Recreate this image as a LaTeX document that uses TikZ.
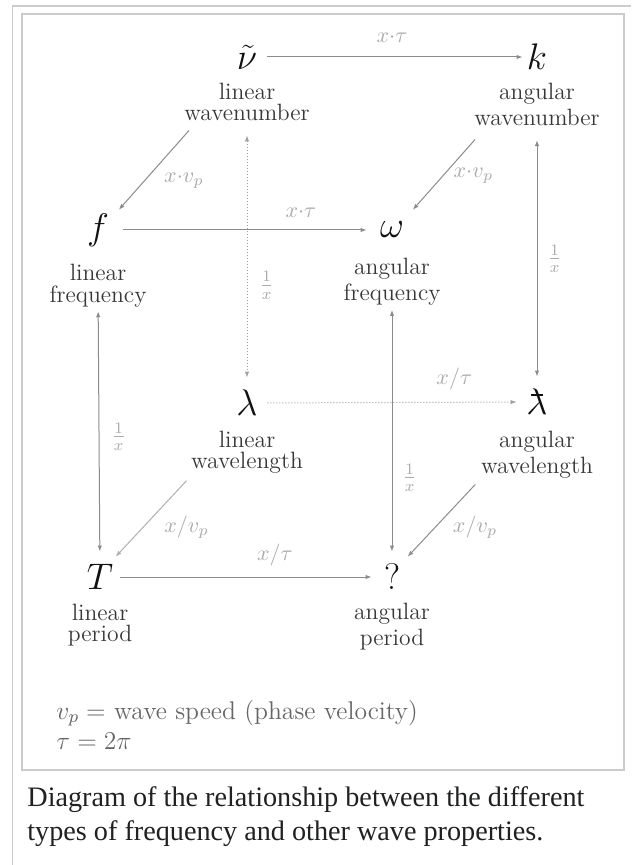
\RequirePackage{fix-cm}
\documentclass[tikz,border=0pt]{standalone}
\usepackage{fontspec}
\newfontfamily\capfont{Liberation Serif}
\usetikzlibrary{arrows.meta,positioning}

\definecolor{symblack}{HTML}{111111}
\definecolor{desctext}{HTML}{383838}
\definecolor{arrgray}{HTML}{8C8C8C}
\definecolor{faintgray}{HTML}{B0B0B0}
\definecolor{dotgray}{HTML}{A0A0A0}
\definecolor{lblgray}{HTML}{ABABAB}
\definecolor{legendtext}{HTML}{666666}
\definecolor{framegray}{HTML}{CCCCCC}
\definecolor{captext}{HTML}{202122}

% reduced wavelength (lambda with a bar)
\newcommand{\redlam}{\ooalign{$\lambda$\cr\hidewidth\rule[0.5em]{0.3em}{0.05em}\hidewidth\cr}}

\begin{document}
\begin{tikzpicture}[
  x=0.5pt, y=-0.5pt,
  sym/.style={inner sep=0pt, minimum width=20pt, minimum height=25pt, font=\fontsize{18.5}{20}\selectfont, text=symblack},
  desc/.style={inner sep=0pt, align=center, text=desctext, font={\fontsize{11.8}{0}\selectfont\lineskip=2.5pt}},
  lbl/.style={inner sep=0pt, text=lblgray, font=\fontsize{11}{12}\selectfont},
  frac/.style={lbl, font=\fontsize{12}{13}\selectfont},
  arr/.style={-{Latex[length=3pt, width=2.2pt]}, line width=0.5pt, draw=arrgray},
  biarr/.style={{Latex[length=3pt, width=2.2pt]}-{Latex[length=3pt, width=2.2pt]}, line width=0.5pt, draw=arrgray},
  dotarr/.style={densely dotted, draw=dotgray},
  faint/.style={draw=faintgray}
]
\useasboundingbox[fill=white] (0,0) rectangle (631,865);
% frames
\draw[framegray, line width=0.6pt] (12.5,865) -- (12.5,6) -- (631,6);
\draw[framegray, line width=0.6pt, fill=white] (22,14) rectangle (624,770);

% quantities
\node[sym] (nu) at (247,57) {$\tilde{\nu}$};
\node[sym] (k) at (537,57) {$k$};
\node[sym, minimum width=25pt] (f) at (98,230) {$f$};
\node[sym, minimum width=25pt] (om) at (392,230) {$\omega$};
\node[sym] (lam) at (247,403) {$\lambda$};
\node[sym] (lamb) at (537,402) {\redlam};
\node[sym] (T) at (100,577) {$T$};
\node[sym] (q) at (392,577) {$?$};

\node[desc, below=0pt of nu] (lwn) {linear\\wavenumber};
\node[desc, below=0pt of k] (awn) {angular\\wavenumber};
\node[desc, below=4pt of f] (lfr) {linear\\frequency};
\node[desc, below=1pt of om] (afr) {angular\\frequency};
\node[desc, below=1pt of lam] (lwl) {linear\\wavelength};
\node[desc, below=1.5pt of lamb] (awl) {angular\\wavelength};
\node[desc, below=0.5pt of T] (lpe) {linear\\period};
\node[desc, below=0pt of q] (ape) {angular\\period};

% horizontal conversions
\draw[arr, shorten >=-3pt] (nu) -- (k) node[lbl, midway, above=7pt] (lnk) {$x{\cdot}\tau$};
\draw[arr] (f) -- (om) node[lbl, pos=0.73, above=6pt] (lfo) {$x{\cdot}\tau$};
\draw[arr, dotarr] (lam) -- (lamb) node[lbl, pos=0.75, above=5.75pt] (lll) {$x/\tau$};
\draw[arr] (T) -- (q) node[lbl, pos=0.615, above=5.25pt] (ltq) {$x/\tau$};

% diagonal conversions
\draw[arr, shorten <=6pt, shorten >=-3.5pt] ([xshift=6.5pt]lwn.south west) -- (f.north east) node[lbl, pos=0.71, right=9.5pt] (lnf) {$x{\cdot}v_p$};
\draw[arr, shorten <=9pt, shorten >=-3.5pt] ([xshift=6.5pt]awn.south west) -- (om.north east) node[lbl, pos=0.63, right=5pt] (lko) {$x{\cdot}v_p$};
\draw[arr, faint, shorten <=4.5pt, shorten >=-3.5pt] ([xshift=1pt]lwl.south west) -- (T.north east) node[lbl, pos=0.69, right=10.5pt] (llT) {$x/v_p$};
\draw[arr, shorten <=4pt, shorten >=-3.5pt] (awl.south west) -- (q.north east) node[lbl, pos=0.67, right=8.75pt] (llq) {$x/v_p$};

% vertical conversions
\draw[biarr, dotarr, shorten <=7pt] (lwn) -- (lam) node[frac, pos=0.64, right=6pt] (lnl) {$\frac{1}{x}$};
\draw[biarr, shorten <=7pt] (awn) -- (lamb) node[frac, pos=0.53, right=5pt] (lkl) {$\frac{1}{x}$};
\draw[biarr, shorten <=2pt] (lfr) -- (T) node[frac, pos=0.53, right=6pt] (lfT) {$\frac{1}{x}$};
\draw[biarr, shorten <=2pt] (afr) -- (q) node[frac, pos=0.70, right=5pt] (loq) {$\frac{1}{x}$};

% legend and caption
\node[inner sep=0pt, anchor=base west, align=left, text=legendtext, font=\fontsize{12.8}{15}\selectfont] (legend) at (56,749) {$v_p =$ wave speed (phase velocity)\\$\tau = 2\pi$};
\node[inner sep=0pt, anchor=base west, align=left, text=captext, font=\capfont\fontsize{14.1}{17}\selectfont] (caption) at (27,840) {Diagram of the relationship between the different\\types of frequency and other wave properties.};
\end{tikzpicture}
\end{document}
